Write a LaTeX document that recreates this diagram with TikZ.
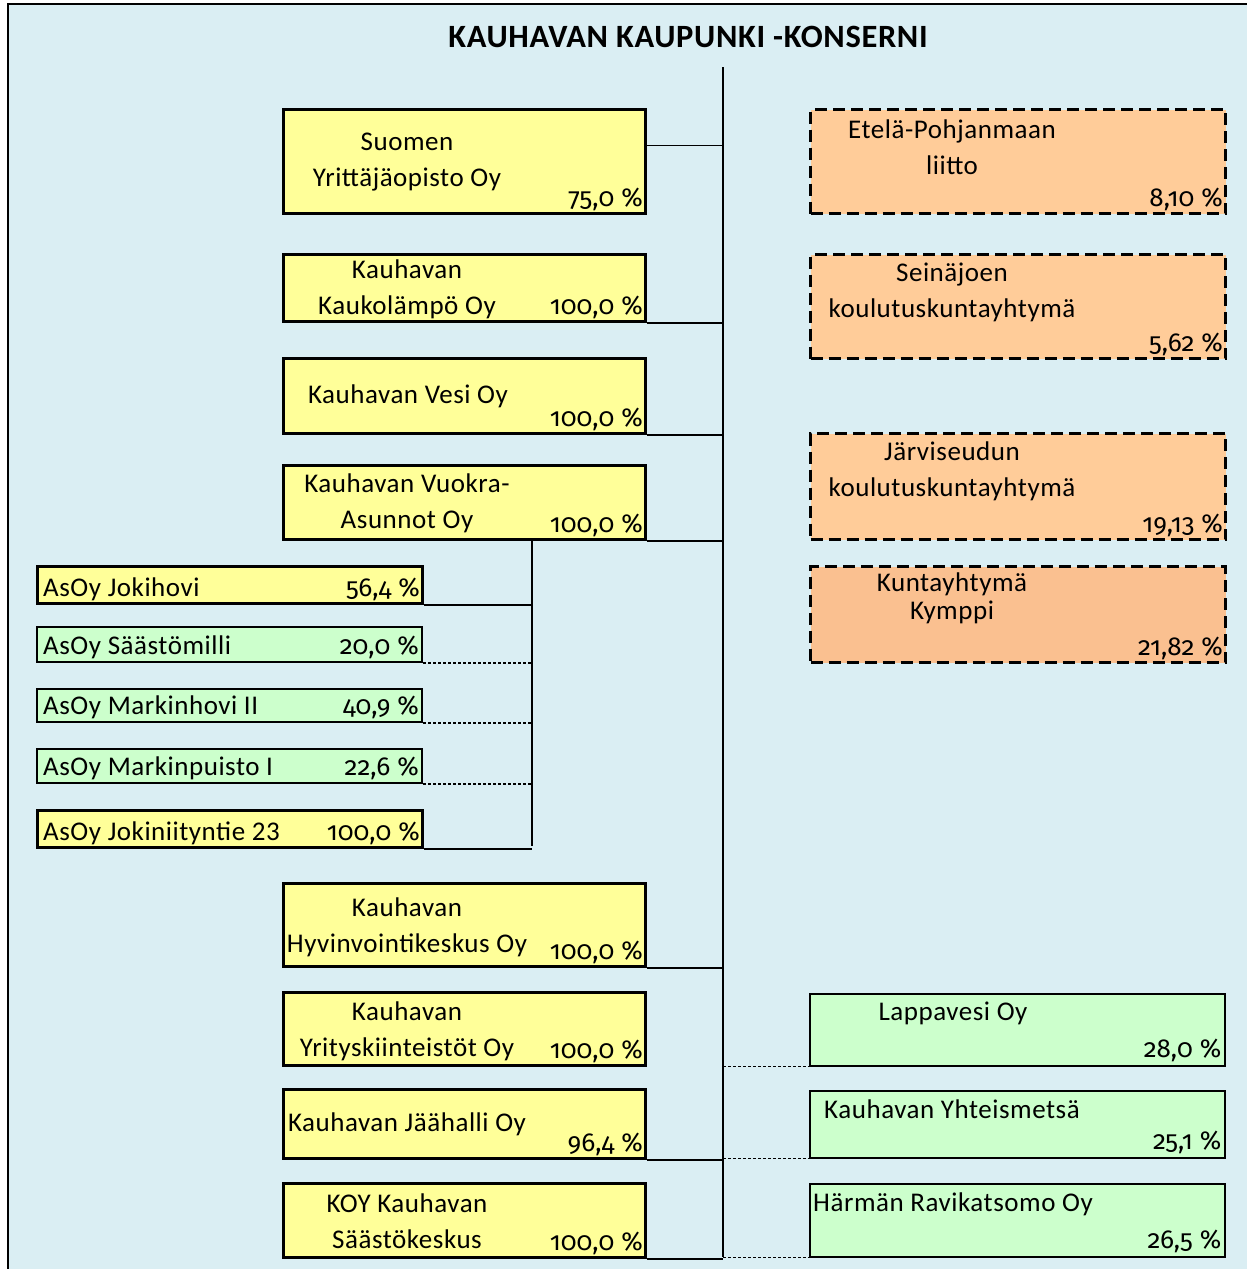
\documentclass[tikz,border=0pt]{standalone}
\usepackage{fontspec}
\setmainfont{Carlito}[LetterSpace=2]
\newfontfamily\pctfont{Fira Sans}[Numbers=OldStyle]
\usepackage{xcolor}
\usepackage{tikz}

\definecolor{panelblue}{HTML}{DAEEF3}
\definecolor{ownyellow}{HTML}{FFFF99}
\definecolor{partgreen}{HTML}{CCFFCC}
\definecolor{muniorange}{HTML}{FFCC99}
\definecolor{kymporange}{HTML}{FAC090}

\tikzset{
  ownbox/.style={draw, line width=3pt, fill=ownyellow, anchor=north west,
                 inner sep=0pt, minimum width=362pt},
  partbox/.style={draw, line width=1.5pt, fill=partgreen, anchor=north west,
                  inner sep=0pt, minimum width=415pt},
  munibox/.style={draw, dash pattern=on 12pt off 6pt, line width=3pt,
                  fill=muniorange, anchor=north west, inner sep=0pt, minimum width=415pt},
  subbox/.style={draw, line width=2pt, fill=partgreen, anchor=north west,
                 inner sep=0pt, minimum width=385pt},
  firm/.style={align=center, inner sep=0pt},
  pct/.style={anchor=base east, inner sep=0pt, font=\pctfont\fontsize{26}{30}\selectfont},
  link/.style={line width=1.3pt},
  sharelink/.style={line width=1.3pt, densely dashed}
}

\begin{document}
\begin{tikzpicture}[x=1pt, y=-1pt, font=\fontsize{27}{36}\selectfont]
  \useasboundingbox (0,0) rectangle (1247,1269);
  \clip (0,0) rectangle (1247,1269);
  \draw[fill=panelblue, line width=2pt] (8,4) rectangle (1300,1320);

  \node[font=\bfseries\fontsize{32.5}{36}\selectfont] (title) at (688,37) {KAUHAVAN KAUPUNKI -KONSERNI};

  % main line of the group
  \coordinate (trunktop) at (723,67);
  \coordinate (trunkbot) at (723,1257);
  \draw[link] (trunktop) -- (trunkbot);

  % subsidiaries
  \node[ownbox, minimum height=104pt] (syo) at (282,108) {};
  \node[firm] (syo-t) at (407,162) {Suomen\\Yrittäjäopisto Oy};
  \node[pct] (syo-p) at ([xshift=-4pt,yshift=9pt]syo.south east) {75,0 \%};

  \node[ownbox, minimum height=67pt] (kkl) at (282,253) {};
  \node[firm] (kkl-t) at (407,289) {Kauhavan\\Kaukolämpö Oy};
  \node[pct] (kkl-p) at ([xshift=-4pt,yshift=9pt]kkl.south east) {100,0 \%};

  \node[ownbox, minimum height=75pt] (ves) at (282,357) {};
  \node[firm] (ves-t) at (408,396) {Kauhavan Vesi Oy};
  \node[pct] (ves-p) at ([xshift=-4pt,yshift=9pt]ves.south east) {100,0 \%};

  \node[ownbox, minimum height=74pt] (vua) at (282,464) {};
  \node[firm] (vua-t) at (407,503) {Kauhavan Vuokra-\\Asunnot Oy};
  \node[pct] (vua-p) at ([xshift=-4pt,yshift=9pt]vua.south east) {100,0 \%};

  \node[ownbox, minimum height=83pt] (hyv) at (282,882) {};
  \node[firm] (hyv-t) at (407,927) {Kauhavan\\Hyvinvointikeskus Oy};
  \node[pct] (hyv-p) at ([xshift=-4pt,yshift=9pt]hyv.south east) {100,0 \%};

  \node[ownbox, minimum height=73pt] (yrk) at (282,991) {};
  \node[firm] (yrk-t) at (407,1031) {Kauhavan\\Yrityskiinteistöt Oy};
  \node[pct] (yrk-p) at ([xshift=-4pt,yshift=9pt]yrk.south east) {100,0 \%};

  \node[ownbox, minimum height=69pt] (jaa) at (282,1088) {};
  \node[firm] (jaa-t) at (407,1124) {Kauhavan Jäähalli Oy};
  \node[pct] (jaa-p) at ([xshift=-4pt,yshift=9pt]jaa.south east) {96,4 \%};

  \node[ownbox, minimum height=74pt] (koy) at (282,1182) {};
  \node[firm] (koy-t) at (407,1221) {KOY Kauhavan\\Säästökeskus};
  \node[pct] (koy-p) at ([xshift=-4pt,yshift=9pt]koy.south east) {100,0 \%};

  % housing companies
  \node[subbox, line width=3pt, fill=ownyellow, minimum height=37pt] (jok) at (36,565) {};
  \node[subbox, minimum height=35pt] (saa) at (36,626) {};
  \node[subbox, minimum height=33pt] (mhv) at (36,688) {};
  \node[subbox, minimum height=34pt] (mpu) at (36,748) {};
  \node[subbox, line width=3pt, fill=ownyellow, minimum height=37pt] (jkn) at (36,809) {};
  \foreach \b/\t/\p in {jok/AsOy Jokihovi/{56,4}, saa/AsOy Säästömilli/{20,0},
                        mhv/AsOy Markinhovi II/{40,9}, mpu/AsOy Markinpuisto I/{22,6},
                        jkn/AsOy Jokiniityntie 23/{100,0}}{
    \node[anchor=base west, inner sep=0pt] (\b-t) at ([xshift=7pt,yshift=9pt]\b.south west) {\t};
    \node[pct] (\b-p) at ([xshift=-4pt,yshift=9pt]\b.south east) {\p\ \%};
  }

  % joint municipal authorities
  \node[munibox, minimum height=104pt] (epl) at (809,108) {};
  \node[firm] (epl-t) at (952,147) {Etelä-Pohjanmaan\\liitto};
  \node[pct] (epl-p) at ([xshift=-4pt,yshift=9pt]epl.south east) {8,10 \%};

  \node[munibox, minimum height=104pt] (seu) at (809,253) {};
  \node[firm] (seu-t) at (952,292) {Seinäjoen\\koulutuskuntayhtymä};
  \node[pct] (seu-p) at ([xshift=-4pt,yshift=9pt]seu.south east) {5,62 \%};

  \node[munibox, minimum height=106pt] (jar) at (809,432) {};
  \node[firm] (jar-t) at (952,471) {Järviseudun\\koulutuskuntayhtymä};
  \node[pct] (jar-p) at ([xshift=-4pt,yshift=9pt]jar.south east) {19,13 \%};

  \node[munibox, fill=kymporange, minimum height=96pt] (kym) at (809,565) {};
  \node[firm] (kym-t) at (952,598) {Kuntayhtymä\\[-8pt]Kymppi};
  \node[pct] (kym-p) at ([xshift=-4pt,yshift=9pt]kym.south east) {21,82 \%};

  % associated companies
  \node[partbox, minimum height=72pt] (lap) at (809,993) {};
  \node[firm] (lap-t) at (953,1013) {Lappavesi Oy};
  \node[pct] (lap-p) at ([xshift=-4pt,yshift=9pt]lap.south east) {28,0 \%};

  \node[partbox, minimum height=67pt] (yht) at (809,1090) {};
  \node[firm] (yht-t) at (952,1109) {Kauhavan Yhteismetsä};
  \node[pct] (yht-p) at ([xshift=-4pt,yshift=9pt]yht.south east) {25,1 \%};

  \node[partbox, minimum height=73pt] (har) at (809,1183) {};
  \node[firm] (har-t) at (953,1204) {Härmän Ravikatsomo Oy};
  \node[pct] (har-p) at ([xshift=-4pt,yshift=9pt]har.south east) {26,5 \%};

  % connectors
  \draw[link] ([yshift=16pt]syo.east) -- ([yshift=16pt]syo.east -| trunktop);
  \foreach \b in {kkl,ves,vua,hyv,jaa,koy}
    \draw[link] (\b.south east) -- (\b.south east -| trunktop);
  \foreach \b in {lap,yht,har}
    \draw[sharelink] (\b.south west -| trunktop) -- (\b.south west);

  \coordinate (subtop) at (532,538);
  \coordinate (subbot) at (532,846);
  \draw[link, line width=2pt] (subtop) -- (subbot);
  \foreach \b in {jok,jkn}
    \draw[link] (\b.south east) -- (\b.south east -| subtop);
  \foreach \b in {saa,mhv,mpu}
    \draw[sharelink] (\b.south east) -- (\b.south east -| subtop);
\end{tikzpicture}
\end{document}
